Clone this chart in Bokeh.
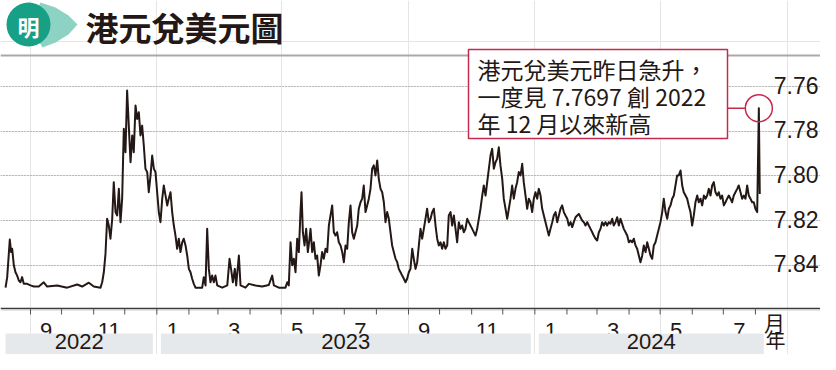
import numpy as np
import pandas as pd
from bokeh.plotting import figure
from bokeh.models import Range1d
from bokeh.core.properties import value
from bokeh.embed import file_html
from bokeh.resources import INLINE

# ---------------- data ----------------
START = "2022-08-01"  # day offsets below count from this date

days_a = [6.9, 8.5, 11.0, 12.3, 13.3, 14.9, 16.5, 18.1, 19.7, 21.3,
          22.9, 24.5, 27.8, 31.0, 34.2, 39.0, 43.8, 47.1, 56.8, 66.4,
          76.1, 80.9, 87.3, 92.1, 98.6, 100.2, 101.8, 103.4, 105.0, 106.6,
          108.2, 109.9, 111.4, 113.1, 114.7, 116.3, 117.9, 119.5, 121.1, 122.7,
          124.3, 125.9, 127.6, 129.2, 130.7, 132.4, 134.0, 135.6, 137.2, 138.8,
          140.4, 142.0, 143.7, 145.2, 146.9, 148.5, 150.1]
rate_a = [7.850, 7.8453, 7.8285, 7.8341, 7.8326, 7.840, 7.8431, 7.8446, 7.8468, 7.8476,
          7.8453, 7.8483, 7.8483, 7.849, 7.8495, 7.8495, 7.8476, 7.8495, 7.849, 7.850,
          7.8486, 7.8495, 7.8478, 7.8495, 7.850, 7.8476, 7.8431, 7.8349, 7.8192, 7.8222,
          7.8281, 7.8192, 7.8028, 7.8162, 7.8177, 7.8058, 7.8207, 7.8102, 7.7789, 7.7894,
          7.7618, 7.7775, 7.7939, 7.7819, 7.7894, 7.7685, 7.7745, 7.7715, 7.7819, 7.7775,
          7.7864, 7.7968, 7.7983, 7.8073, 7.7998, 7.7909, 7.7968]

days_b = [151.7, 153.3, 154.9, 156.5, 158.2, 159.7, 161.4, 163.0, 164.5, 166.2,
          167.8, 169.4, 171.0, 172.6, 174.2, 175.8, 177.5, 179.0, 180.7, 182.3,
          183.9, 185.5, 187.1, 188.7, 190.3, 196.8, 198.3, 200.0, 201.6, 203.2,
          204.8, 206.4, 208.0, 209.6, 211.3, 216.1, 221.0, 223.2, 225.1, 226.4,
          228.3, 229.6, 232.2, 233.8, 238.6, 241.8, 248.3, 254.7, 261.1, 264.4,
          266.0, 270.8, 277.2, 278.9, 280.4, 282.1, 283.7, 285.3, 286.9, 288.5,
          290.1, 291.7, 292.7, 294.0, 295.6, 297.2, 298.8, 300.4]
rate_b = [7.7983, 7.8073, 7.8162, 7.8207, 7.8102, 7.8043, 7.8088, 7.8132, 7.8102, 7.8073,
          7.8162, 7.8222, 7.8267, 7.8326, 7.8281, 7.8341, 7.8297, 7.8281, 7.8311, 7.8356,
          7.8416, 7.8431, 7.8460, 7.8483, 7.850, 7.850, 7.8453, 7.849, 7.8237, 7.8416,
          7.8476, 7.8446, 7.8476, 7.8446, 7.849, 7.850, 7.849, 7.8371, 7.8431, 7.8476,
          7.8416, 7.849, 7.8356, 7.849, 7.850, 7.8483, 7.849, 7.8495, 7.8488, 7.8446,
          7.849, 7.850, 7.850, 7.8476, 7.849, 7.8297, 7.840, 7.8371, 7.8431, 7.8281,
          7.8341, 7.8162, 7.8073, 7.8252, 7.8311, 7.8237, 7.8341, 7.8281]

days_c = [301.4, 303.0, 304.6, 306.2, 307.8, 309.4, 311.0, 312.6, 314.2, 315.9,
          317.5, 319.1, 320.7, 322.3, 323.9, 325.5, 327.1, 328.7, 330.4, 332.0,
          333.6, 335.2, 336.8, 338.4, 340.0, 341.6, 343.2, 344.8, 346.5, 348.0,
          349.7, 351.3, 352.8, 354.5, 356.1, 357.7, 359.3, 360.9, 362.5, 364.1,
          365.8, 367.3, 369.0, 370.6, 372.2, 373.8, 375.4, 377.0, 378.6, 380.2,
          381.8, 383.5, 385.1, 386.6, 388.3, 389.9, 391.5, 393.1, 394.7, 396.3,
          397.9, 399.6, 401.1, 402.8, 404.4, 406.0, 407.6, 409.2, 410.8, 412.4,
          414.0, 415.6, 417.3, 418.9, 420.5, 422.1, 423.7, 425.3, 426.9, 428.5,
          430.1, 431.7, 433.4, 434.9, 436.6, 438.2, 439.8, 441.4, 443.0, 444.6,
          446.2, 447.8, 449.4, 451.0, 452.7, 454.2]
rate_c = [7.8237, 7.8341, 7.8297, 7.8371, 7.8356, 7.8446, 7.840, 7.8341, 7.8371, 7.8326,
          7.8341, 7.8222, 7.8177, 7.8132, 7.8252, 7.8267, 7.8252, 7.8297, 7.8311, 7.8341,
          7.8386, 7.8311, 7.8326, 7.8207, 7.8132, 7.8252, 7.8281, 7.8252, 7.8222, 7.8147,
          7.8118, 7.8102, 7.8043, 7.8162, 7.8132, 7.8102, 7.8058, 7.7968, 7.7953, 7.7998,
          7.7931, 7.8013, 7.8058, 7.8073, 7.8118, 7.8207, 7.8162, 7.8192, 7.8252, 7.8311,
          7.8341, 7.8371, 7.8386, 7.8416, 7.8431, 7.8446, 7.8460, 7.8476, 7.8460, 7.8431,
          7.8416, 7.8326, 7.8371, 7.8416, 7.8386, 7.8311, 7.8237, 7.8281, 7.8237, 7.8192,
          7.8147, 7.8207, 7.8192, 7.8162, 7.8147, 7.8222, 7.8281, 7.8311, 7.8297, 7.8326,
          7.8297, 7.8326, 7.8311, 7.8177, 7.8162, 7.8222, 7.8177, 7.8237, 7.8297, 7.8207,
          7.8237, 7.8222, 7.8252, 7.8237, 7.8192, 7.8207]

days_d = [457.5, 460.7, 462.3, 463.9, 465.5, 467.2, 468.7, 470.4, 472.0, 473.6,
          475.2, 476.8, 478.4, 480.0, 481.6, 483.2, 484.8, 486.5, 488.0, 489.7,
          491.3, 492.9, 494.5, 496.1, 497.7, 499.3, 500.9, 502.5, 504.2, 505.8,
          507.3, 509.0, 510.6, 512.2, 513.8, 515.4, 517.0, 518.6, 520.3, 521.8,
          523.5, 525.1, 526.7, 528.3, 529.9, 531.5, 533.1, 534.8, 536.3, 538.0,
          539.6, 541.2, 542.8, 544.4, 546.0, 547.6, 549.3, 550.8, 552.5, 554.1,
          555.6, 557.3, 558.9, 560.5, 562.1, 563.7, 565.3, 566.9, 568.6, 570.1,
          571.8, 573.4, 574.9, 576.6, 578.2, 579.8, 581.4, 583.0, 584.6, 586.2,
          587.8, 589.4, 591.0, 592.7, 594.2, 595.9, 597.5, 599.1]
rate_d = [7.8237, 7.8267, 7.8237, 7.8192, 7.8147, 7.8088, 7.8043, 7.8088, 7.8028, 7.7968,
          7.7909, 7.7879, 7.7968, 7.7939, 7.7924, 7.7872, 7.7953, 7.8013, 7.8102, 7.8147,
          7.8192, 7.8147, 7.8102, 7.8043, 7.8102, 7.8058, 7.8028, 7.7983, 7.7998, 7.7946,
          7.8028, 7.8088, 7.8147, 7.8102, 7.8118, 7.8162, 7.8102, 7.8073, 7.8102, 7.8058,
          7.8088, 7.8147, 7.8177, 7.8207, 7.8237, 7.8267, 7.8237, 7.8207, 7.8177, 7.8162,
          7.8207, 7.8177, 7.8147, 7.8132, 7.8162, 7.8177, 7.8192, 7.8222, 7.8207, 7.8229,
          7.8207, 7.8185, 7.8177, 7.8170, 7.8185, 7.8200, 7.8207, 7.8222, 7.8207, 7.8222,
          7.8237, 7.8252, 7.8267, 7.8281, 7.8289, 7.8252, 7.8237, 7.8207, 7.8222, 7.8207,
          7.8222, 7.8207, 7.8214, 7.8192, 7.8222, 7.8207, 7.8185, 7.8222]

days_e = [600.7, 603.9, 607.2, 608.8, 610.4, 612.0, 613.6, 615.2, 616.8, 618.4,
          620.0, 621.7, 623.2, 624.9, 626.5, 628.1, 629.7, 631.3, 632.9, 634.5,
          636.1, 637.7, 639.3, 641.0, 642.5, 644.2, 645.8, 647.4, 649.0, 650.6,
          652.2, 653.8, 655.4, 657.0, 658.7, 660.3, 661.8, 663.5, 665.1, 666.6,
          668.3, 669.9, 671.5, 673.1, 674.8, 676.3, 678.0, 679.6, 681.2, 682.8,
          684.4, 686.0, 687.6, 689.2, 690.8, 692.4, 694.1, 695.6, 697.3, 698.9,
          700.5, 702.1, 703.7, 705.3, 706.9, 708.5, 710.1, 711.7, 713.4, 714.9,
          716.6, 718.2, 719.8, 721.4, 723.0, 724.6, 726.2, 727.8, 729.4, 731.0,
          732.7, 734.3, 735.2]
rate_e = [7.8192, 7.8237, 7.8267, 7.8297, 7.8289, 7.8297, 7.8281, 7.8311, 7.8326, 7.8356,
          7.8386, 7.8356, 7.8311, 7.8341, 7.8297, 7.8326, 7.8356, 7.8371, 7.8311, 7.8297,
          7.8267, 7.8237, 7.8207, 7.8162, 7.8102, 7.8162, 7.8192, 7.8147, 7.8132, 7.8102,
          7.8088, 7.8043, 7.7998, 7.7998, 7.7976, 7.8043, 7.8073, 7.8088, 7.8102, 7.8132,
          7.8162, 7.8222, 7.8177, 7.8118, 7.8088, 7.8118, 7.8102, 7.8132, 7.8088, 7.8102,
          7.8088, 7.8058, 7.8088, 7.8043, 7.8028, 7.8073, 7.8088, 7.8073, 7.8102, 7.8088,
          7.8132, 7.8118, 7.8102, 7.8088, 7.8102, 7.8118, 7.8088, 7.8073, 7.8058, 7.8043,
          7.8073, 7.8102, 7.8088, 7.8102, 7.8043, 7.8088, 7.8102, 7.8118, 7.8118, 7.8147,
          7.8162, 7.7697, 7.8081]

y_ticks = [7.76, 7.78, 7.80, 7.82, 7.84]
y_tick_labels = ["7.76", "7.78", "7.80", "7.82", "7.84"]
month_tick_first, month_tick_last = "2022-09-01", "2024-08-01"
label_months = ["2022-09", "2022-11", "2023-01", "2023-03", "2023-05", "2023-07",
                "2023-09", "2023-11", "2024-01", "2024-03", "2024-05", "2024-07"]
month_labels = ["9", "11", "1", "3", "5", "7", "9", "11", "1", "3", "5", "7"]
years = ["2022", "2023", "2024"]
month_unit, year_unit = "月", "年"
title_text = "港元兌美元圖"
logo_text = "明"
note_lines = ["港元兌美元昨日急升，", "一度見 7.7697 創 2022", "年 12 月以來新高"]

# ---------------- layout helpers (pixel positions -> data space) ----------------
W, H = 820, 354
PX_PER_DAY = 1.0356
FX_AT_START = -2.1
V0, FY_V0 = 7.76, 86.0
PX_PER_UNIT = 44.7 / 0.02
base = pd.Timestamp(START)


def t_at(fx):
    return base + pd.Timedelta(days=(fx - FX_AT_START) / PX_PER_DAY)


def v_at(fy):
    return V0 + (fy - FY_V0) / PX_PER_UNIT


INK = "#231815"
CRIM = "#c52a4e"
LATIN = value("Liberation Sans")
CJK = value("Noto Sans CJK TC")

days = days_a + days_b + days_c + days_d + days_e
rates = rate_a + rate_b + rate_c + rate_d + rate_e
assert len(days) == len(rates)
dates = base + pd.to_timedelta(np.array(days), unit="D")

p = figure(width=W, height=H, x_range=Range1d(t_at(0), t_at(W)),
           y_range=Range1d(v_at(H), v_at(0)), output_backend="svg",
           toolbar_location=None, min_border=0, x_axis_location=None,
           y_axis_location=None, outline_line_color=None,
           background_fill_color="white", border_fill_color="white")

# grid and frame lines
p.hspan(y=y_ticks, line_color="#8e8e8e", line_width=1, line_dash="1 2")
p.hspan(y=[v_at(55)], line_color="#a9a9a9", line_width=2)
p.hspan(y=[v_at(308)], line_color="#3a3a3a", line_width=1.5)

month_starts = pd.date_range(month_tick_first, month_tick_last, freq="MS")
p.segment(x0=month_starts, y0=v_at(308), x1=month_starts, y1=v_at(314),
          line_color="#555555", line_width=1)

# month labels
mids = []
for m in label_months:
    ms = pd.Timestamp(m + "-01")
    mids.append(ms + pd.Timedelta(days=ms.days_in_month / 2))
p.text(x=mids, y=[v_at(330)] * len(mids), text=month_labels, text_font=LATIN,
       text_font_size="22px", text_align="center", text_baseline="alphabetic",
       text_color=INK)
p.text(x=[t_at(774)], y=[v_at(321)], text=[month_unit], text_font=CJK,
       text_font_size="21px", text_align="center", text_baseline="middle", text_color=INK)

# year bands
gap = pd.Timedelta(days=4 / PX_PER_DAY)
first, last = dates[0], dates[-1]
lefts, rights, centers = [], [], []
for y in years:
    ys, ye = pd.Timestamp(f"{y}-01-01"), pd.Timestamp(f"{int(y) + 1}-01-01")
    left = first if ys <= first else ys + gap
    right = last + gap if ye > last else ye - gap
    lefts.append(left)
    rights.append(right)
    centers.append(left + (right - left) / 2)
p.quad(left=lefts, right=rights, top=v_at(333), bottom=v_at(354),
       fill_color="#e5e9ec", line_color=None)
p.text(x=centers, y=[v_at(341)] * len(centers), text=years, text_font=LATIN,
       text_font_size="22px", text_align="center", text_baseline="middle",
       text_color=INK)
p.text(x=[t_at(775)], y=[v_at(339)], text=[year_unit], text_font=CJK,
       text_font_size="20px", text_align="center", text_baseline="middle", text_color=INK)

# y tick labels (inside, right)
p.text(x=[t_at(818)] * len(y_ticks), y=[v - 1.5 / PX_PER_UNIT for v in y_ticks],
       text=y_tick_labels, text_font=LATIN, text_font_size="23px",
       text_align="right", text_baseline="alphabetic", text_color=INK)

# the series
p.line(x=dates, y=rates, line_color=INK, line_width=2, line_join="round")

# annotation
p.quad(left=[t_at(468)], right=[t_at(727)], top=[v_at(49)], bottom=[v_at(138)],
       fill_color="white", line_color=CRIM, line_width=1.5)
p.text(x=[t_at(477)] * 3, y=[v_at(68), v_at(95), v_at(122)], text=note_lines,
       text_font=CJK, text_font_size="23px", text_align="left",
       text_baseline="middle", text_color=INK)
off = len(rates) - len(rate_e)
i_peak = off + int(np.argmin(rate_e))
pk_t, pk_v = dates[i_peak], rates[i_peak]
r_px = 13.5
p.segment(x0=[t_at(727)], y0=[pk_v], x1=[pk_t - pd.Timedelta(days=r_px / PX_PER_DAY)],
          y1=[pk_v], line_color=CRIM, line_width=1.5)
p.scatter(x=[pk_t], y=[pk_v], size=2 * r_px, marker="circle", fill_color=None,
          line_color=CRIM, line_width=1.5)

# header: logo + title
lx = [29, 40, 55, 68, 77, 68, 55, 42]
ly = [24, 2, 7, 15, 24, 34, 42, 47]
p.patch(x=[t_at(v) for v in lx], y=[v_at(v) for v in ly], fill_color="#8cd3c4",
        line_color=None)
p.scatter(x=[t_at(28)], y=[v_at(24)], size=44, marker="circle",
          fill_color="#17a086", line_color=None)
p.text(x=[t_at(28)], y=[v_at(25)], text=[logo_text], text_font=CJK,
       text_font_size="22px", text_font_style="bold", text_align="center",
       text_baseline="middle", text_color="white")
p.text(x=[t_at(85)], y=[v_at(26)], text=[title_text], text_font=CJK,
       text_font_size="33px", text_font_style="bold", text_align="left",
       text_baseline="middle", text_color=INK)

open("out.html", "w").write(file_html(p, INLINE))
